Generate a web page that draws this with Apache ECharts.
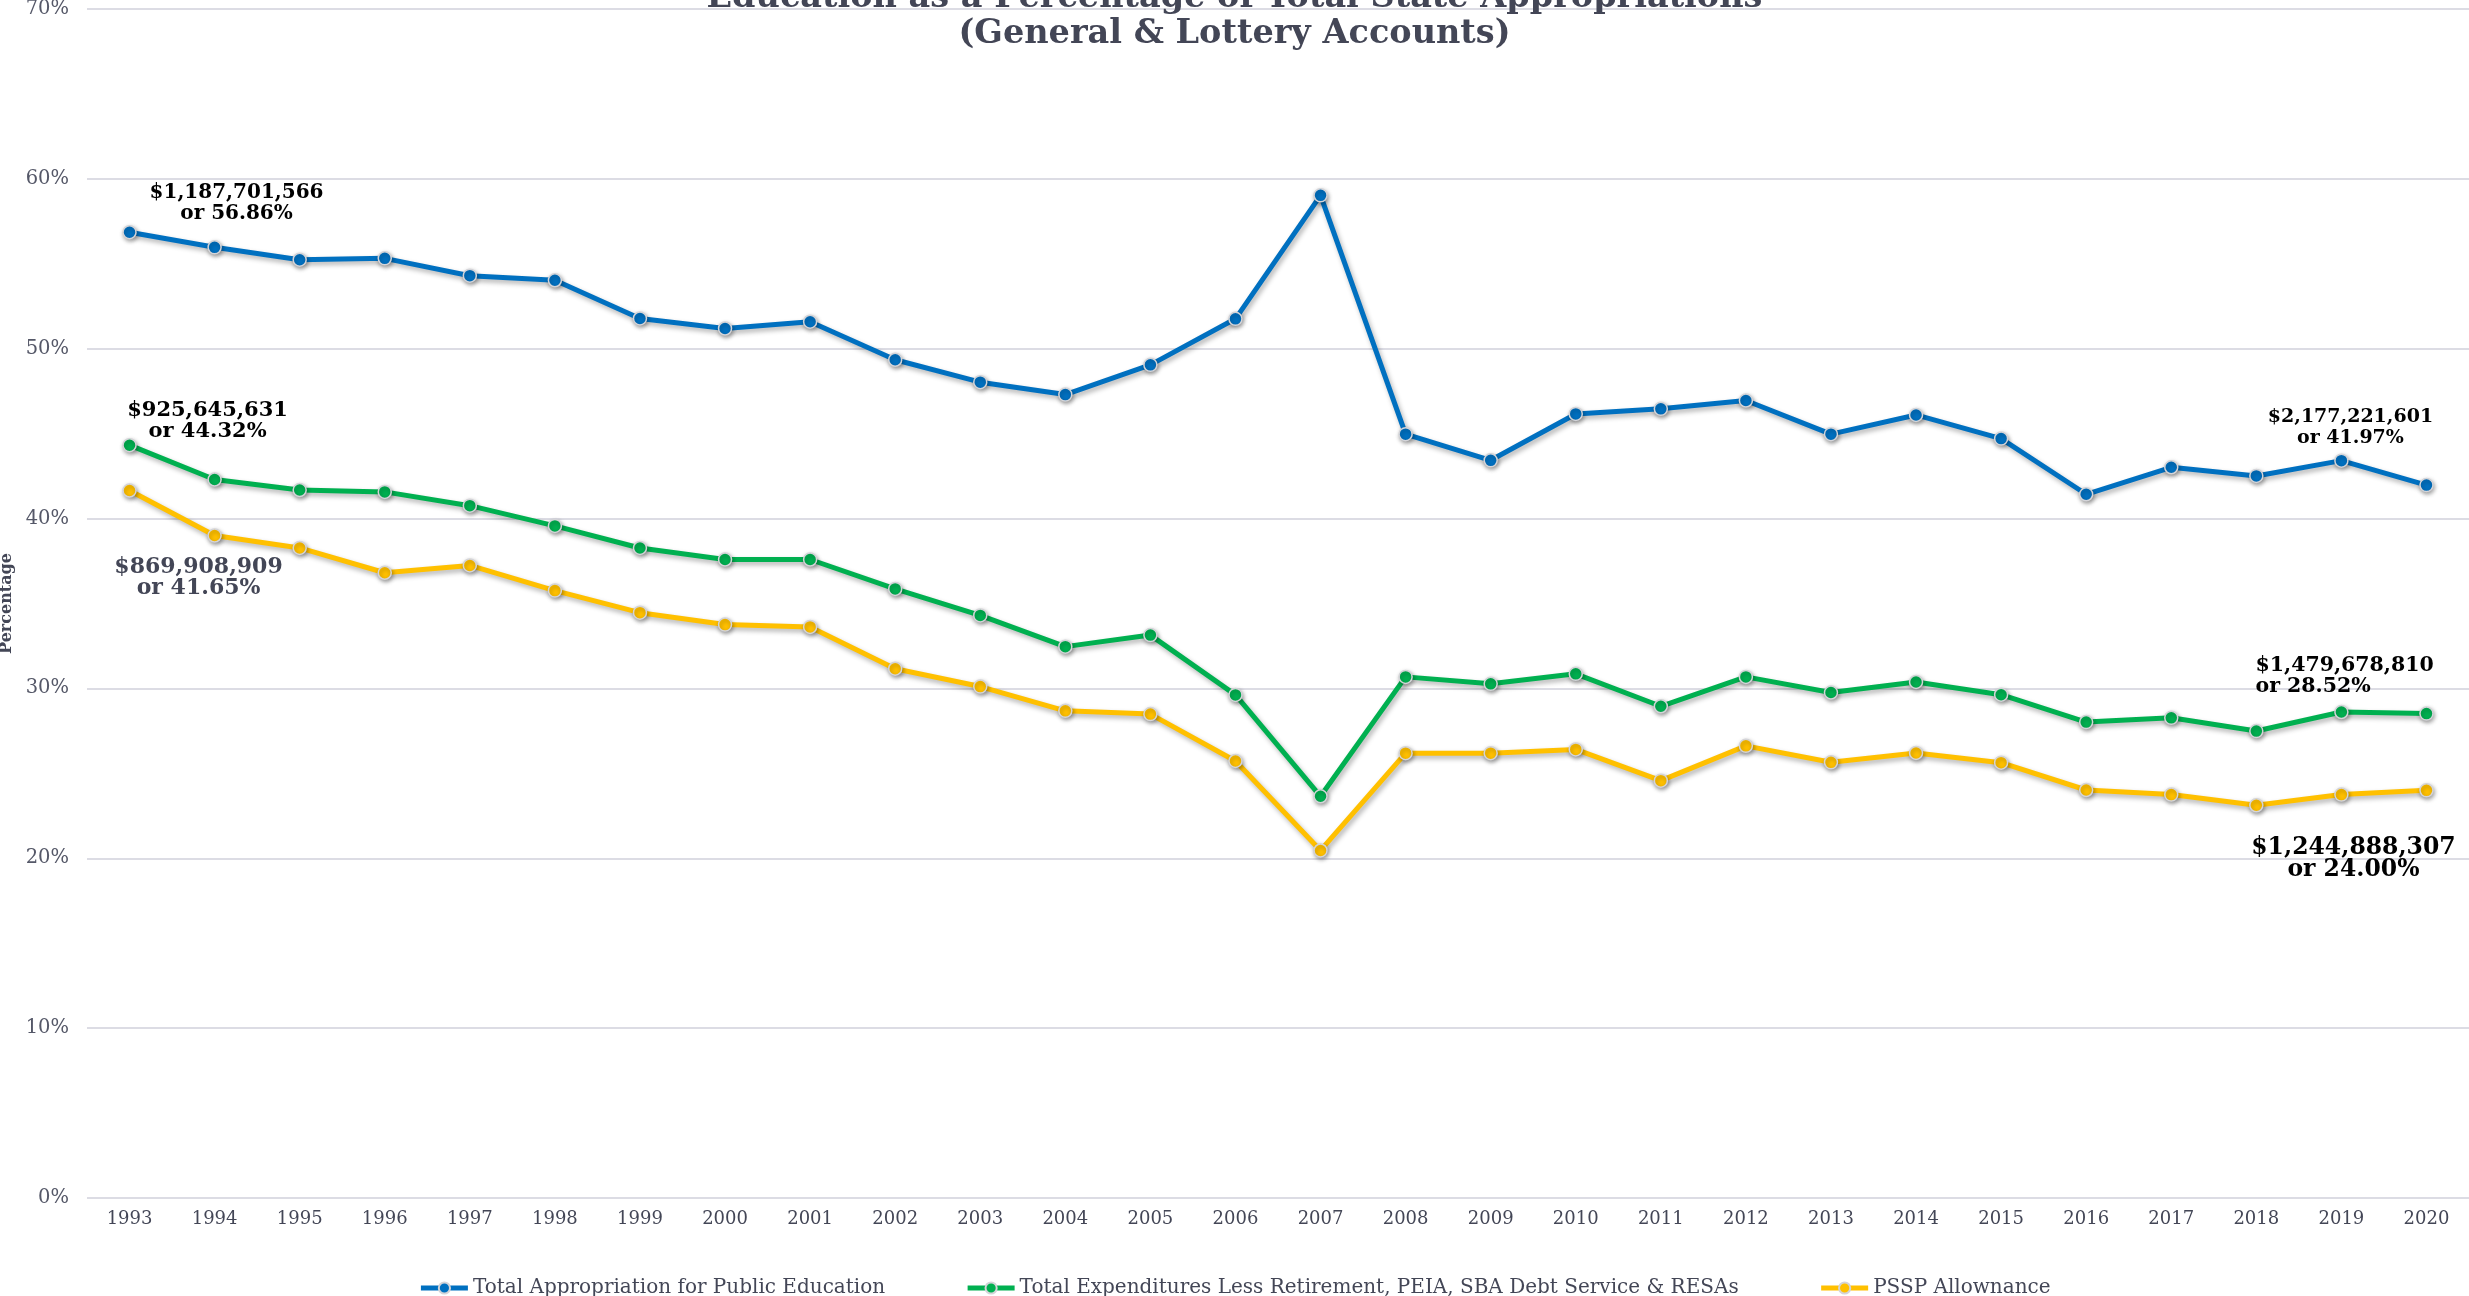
<!DOCTYPE html>
<html>
<head>
<meta charset="utf-8">
<script src="https://cdn.jsdelivr.net/npm/echarts@6/dist/echarts.min.js"></script>
<style>html,body{margin:0;padding:0;background:#fff;}#chart{width:2469px;height:1296px;}</style>
</head>
<body>
<div id="chart"></div>
<script>
const years = ['1993','1994','1995','1996','1997','1998','1999','2000','2001','2002','2003','2004','2005','2006','2007','2008','2009','2010','2011','2012','2013','2014','2015','2016','2017','2018','2019','2020'];
const totalAppropriation = [56.86,55.97,55.24,55.32,54.30,54.03,51.78,51.19,51.59,49.35,48.03,47.30,49.05,51.76,59.03,44.97,43.43,46.16,46.46,46.95,44.97,46.10,44.71,41.43,43.02,42.51,43.41,41.97];
const totalLessRetirement = [44.32,42.30,41.68,41.57,40.76,39.57,38.27,37.59,37.59,35.86,34.30,32.46,33.14,29.62,23.65,30.68,30.27,30.86,28.95,30.68,29.76,30.38,29.63,28.02,28.27,27.49,28.61,28.52];
const psspAllowance = [41.65,39.00,38.27,36.81,37.24,35.76,34.46,33.76,33.62,31.16,30.11,28.68,28.49,25.73,20.46,26.19,26.19,26.41,24.57,26.62,25.65,26.20,25.63,24.02,23.75,23.12,23.75,24.00];
const seriesNames = ['Total Appropriation for Public Education','Total Expenditures Less Retirement, PEIA, SBA Debt Service & RESAs','PSSP Allownance'];
const yTickLabels = ['0%','10%','20%','30%','40%','50%','60%','70%'];
const annotations = {
  blueFirst: '$1,187,701,566\nor 56.86%',
  blueLast: '$2,177,221,601\nor 41.97%',
  greenFirst: '$925,645,631\nor 44.32%',
  greenLast: '$1,479,678,810\nor 28.52%',
  yellowFirst: '$869,908,909\nor 41.65%',
  yellowLast: '$1,244,888,307\nor 24.00%'
};

const FONT = "'DejaVu Serif', serif";
const GRAY = '#434656';

function lbl(text, offset, opts) {
  return Object.assign({
    show: true, position: 'inside', formatter: text, offset: offset,
    fontFamily: FONT, fontWeight: 'bold', fontSize: 20, lineHeight: 21,
    color: '#000', align: 'center', verticalAlign: 'middle'
  }, opts || {});
}
function buildData(values, firstLabel, lastLabel) {
  return values.map((v, i) => {
    if (i === 0) return { value: v, label: firstLabel };
    if (i === values.length - 1) return { value: v, label: lastLabel };
    return v;
  });
}
function mkSeries(name, color, data) {
  return {
    name: name, type: 'line', data: data,
    symbol: 'circle', symbolSize: 13,
    itemStyle: { color: color, borderColor: '#d4d4d8', borderWidth: 1.5,
      shadowColor: 'rgba(0,0,0,0.35)', shadowBlur: 4, shadowOffsetX: 1, shadowOffsetY: 2 },
    lineStyle: { color: color, width: 5,
      shadowColor: 'rgba(0,0,0,0.3)', shadowBlur: 5, shadowOffsetX: 2, shadowOffsetY: 3 },
    label: { show: false },
    emphasis: { disabled: true }
  };
}

const chart = echarts.init(document.getElementById('chart'));
chart.setOption({
  animation: false,
  backgroundColor: '#fff',
  title: {
    text: 'Education as a Percentage of Total State Appropriations\n(General & Lottery Accounts)',
    left: 'center', top: -25,
    textStyle: { fontFamily: FONT, fontWeight: 'bold', fontSize: 33.5, lineHeight: 36, color: GRAY }
  },
  legend: {
    data: seriesNames,
    left: 'center', top: 1273,
    itemWidth: 47, itemHeight: 14, itemGap: 80,
    lineStyle: { width: 5, shadowBlur: 0, shadowOffsetX: 0, shadowOffsetY: 0 },
    itemStyle: { shadowBlur: 0, shadowOffsetX: 0, shadowOffsetY: 0 },
    textStyle: { fontFamily: FONT, fontSize: 20, color: GRAY }
  },
  grid: { left: 87, right: 0, top: 9, bottom: 98, containLabel: false, outerBoundsMode: 'none' },
  xAxis: {
    type: 'category', data: years, boundaryGap: true,
    axisLine: { show: false }, axisTick: { show: false },
    axisLabel: { fontFamily: FONT, fontSize: 18, color: GRAY, margin: 12, interval: 0 }
  },
  yAxis: {
    type: 'value', min: 0, max: 70, interval: 10,
    name: 'Percentage', nameLocation: 'middle', nameRotate: 90, nameGap: 71,
    nameTextStyle: { fontFamily: FONT, fontWeight: 'bold', fontSize: 16, color: GRAY },
    axisLine: { show: false }, axisTick: { show: false },
    axisLabel: { fontFamily: FONT, fontSize: 19.5, color: '#555868', margin: 18,
      formatter: (v) => yTickLabels[Math.round(v / 10)] },
    splitLine: { lineStyle: { color: '#dcdce4', width: 2 } }
  },
  series: [
    mkSeries(seriesNames[0], '#0070C0', buildData(totalAppropriation,
      lbl(annotations.blueFirst, [107, -29]),
      lbl(annotations.blueLast, [-76, -58], { fontSize: 19 }))),
    mkSeries(seriesNames[1], '#00B050', buildData(totalLessRetirement,
      lbl(annotations.greenFirst, [78, -24], { fontSize: 21 }),
      lbl(annotations.greenLast, [-171, -37], { align: 'left', fontSize: 20.5 }))),
    mkSeries(seriesNames[2], '#FFC000', buildData(psspAllowance,
      lbl(annotations.yellowFirst, [69, 87], { color: GRAY, fontSize: 22 }),
      lbl(annotations.yellowLast, [-73, 69], { fontSize: 23.5, lineHeight: 22 })))
  ]
});
</script>
</body>
</html>
